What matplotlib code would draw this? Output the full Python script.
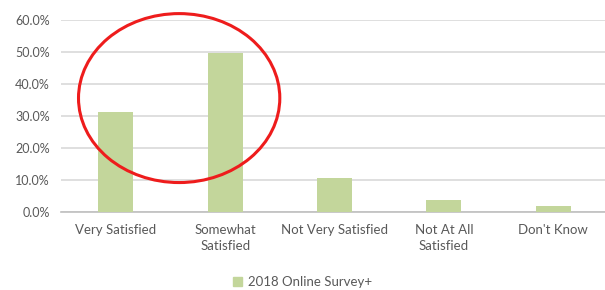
import matplotlib
matplotlib.use("Agg")
import matplotlib.pyplot as plt
from matplotlib.patches import Ellipse, Patch
from matplotlib.ticker import PercentFormatter

categories = ["Very Satisfied", "Somewhat\nSatisfied", "Not Very Satisfied",
              "Not At All\nSatisfied", "Don't Know"]
values = [31.3, 49.7, 10.7, 3.9, 1.9]
series_name = "2018 Online Survey+"

BAR_COLOR = "#c3d69b"
TEXT_COLOR = "#595959"
GRID_COLOR = "#d9d9d9"

plt.rcParams["font.family"] = ["Lato", "DejaVu Sans"]

fig = plt.figure(figsize=(6.05, 2.9), dpi=100)
ax = fig.add_axes([61 / 605, 1 - 212 / 290, 547 / 605, 192 / 290])

x = range(len(categories))
ax.bar(x, values, width=0.32, color=BAR_COLOR, zorder=3)

ax.set_xlim(-0.5, 4.5)
ax.set_ylim(0, 60)
ax.set_yticks(range(0, 61, 10))
ax.yaxis.set_major_formatter(PercentFormatter(decimals=1))
ax.set_xticks(list(x))
ax.set_xticklabels(categories, linespacing=1.35)
ax.grid(axis="y", color=GRID_COLOR, linewidth=1.2, zorder=0)
for s in ("top", "right", "left"):
    ax.spines[s].set_visible(False)
ax.spines["bottom"].set_color("#bfbfbf")
ax.spines["bottom"].set_linewidth(1.2)
ax.tick_params(axis="x", length=0, colors=TEXT_COLOR, labelsize=9.5, pad=9)
ax.tick_params(axis="y", length=0, colors=TEXT_COLOR, labelsize=9, pad=8)

# red circle highlighting the satisfied categories
ax.add_patch(Ellipse((0.58, 35.6), 1.84, 52.8, fill=False, edgecolor="#ee1c1c",
                     linewidth=2.2, clip_on=False, zorder=5))

fig.legend(handles=[Patch(color=BAR_COLOR, label=series_name)],
           loc="center", bbox_to_anchor=(0.5, 1 - 282 / 290), frameon=False,
           fontsize=9.5, handlelength=0.7, handleheight=0.7, handletextpad=0.4,
           labelcolor=TEXT_COLOR)

fig.savefig("out.png", dpi=100)
